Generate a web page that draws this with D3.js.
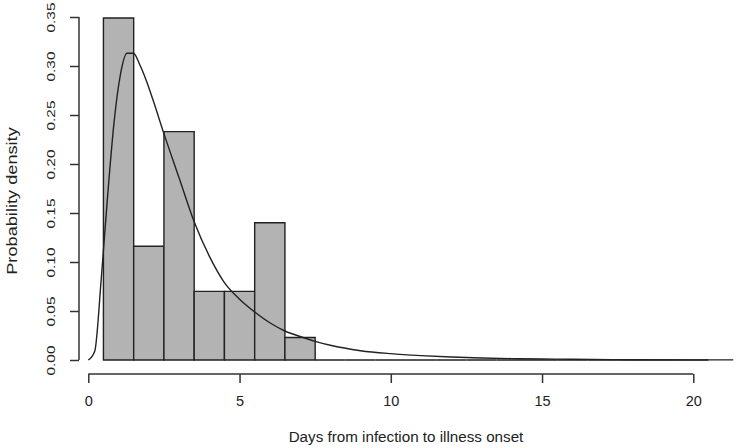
<!DOCTYPE html>
<html>
<head>
<meta charset="utf-8">
<script src="https://cdn.jsdelivr.net/npm/d3@7"></script>
<style>
  html, body { margin: 0; padding: 0; background: #fff; }
  svg { display: block; }
  text { font-family: "Liberation Sans", Arial, Helvetica, sans-serif; fill: #222; }
</style>
</head>
<body>
<svg id="chart" width="737" height="448"></svg>
<script>
// ---- data ----
const days = [1, 2, 3, 4, 5, 6, 7, 8, 9, 10, 11, 12, 13, 14, 15, 16, 17, 18, 19, 20];
const density = [0.349, 0.116, 0.233, 0.070, 0.070, 0.140, 0.023, 0, 0, 0, 0, 0, 0, 0, 0, 0, 0, 0, 0, 0];

const curveX = [0, 0.213, 0.426, 0.640, 0.853, 1.066, 1.279, 1.492, 1.706, 1.919, 2.132, 2.5, 3.0, 3.5, 4.0, 4.5, 5.0, 5.5, 6.0, 6.5, 7.0, 7.5, 8.0, 9.0, 10.0, 11.0, 12.0, 13.0, 14.0, 15.0, 16.0, 18.0, 21.32];
const curveY = [0, 0.009, 0.082, 0.168, 0.243, 0.292, 0.313, 0.313, 0.301, 0.285, 0.266, 0.231, 0.186, 0.141, 0.106, 0.079, 0.062, 0.049, 0.038, 0.0296, 0.024, 0.019, 0.015, 0.0095, 0.0065, 0.0045, 0.003, 0.002, 0.0014, 0.001, 0.0007, 0.0003, 0.0001];

const xTicks = [0, 5, 10, 15, 20];
const yTicks = [0, 0.05, 0.10, 0.15, 0.20, 0.25, 0.30, 0.35];
const yTickLabels = ["0.00", "0.05", "0.10", "0.15", "0.20", "0.25", "0.30", "0.35"];
const xTitle = "Days from infection to illness onset";
const yTitle = "Probability density";

// ---- layout ----
const svg = d3.select("#chart");
const x = d3.scaleLinear().domain([0, 20]).range([88.3, 693.3]);
const y = d3.scaleLinear().domain([0, 0.35]).range([360, 17]);
const ink = "#222";
const axisInk = "#333";

// histogram bars (zero-height bins drawn as flat outlines)
svg.append("g").selectAll("path")
  .data(days.map((d, i) => ({ d, v: density[i] })))
  .join("path")
  .attr("d", b => {
    const x0 = x(b.d - 0.5), x1 = x(b.d + 0.5), y0 = y(0), y1 = y(b.v);
    return `M${x0},${y0}V${y1}H${x1}V${y0}Z`;
  })
  .attr("fill", "#b3b3b3")
  .attr("stroke", ink)
  .attr("stroke-width", 1.4);

// density curve
const line = d3.line()
  .x((d, i) => x(curveX[i]))
  .y((d, i) => y(curveY[i]))
  .curve(d3.curveMonotoneX);
svg.append("path")
  .attr("d", line(curveX))
  .attr("fill", "none")
  .attr("stroke", ink)
  .attr("stroke-width", 1.4);

// x axis
const xAxis = svg.append("g").attr("transform", "translate(0,374)")
  .call(d3.axisBottom(x).tickValues(xTicks).tickSize(9).tickPadding(13).tickFormat(d3.format("d")));
xAxis.select(".domain").attr("d", `M${x(0)},0H${x(20)}`).attr("stroke", axisInk).attr("stroke-width", 1.5);
xAxis.selectAll(".tick line").attr("stroke", axisInk).attr("stroke-width", 1.5);
xAxis.selectAll(".tick text").attr("font-size", 14.5).attr("fill", ink)
  .attr("font-family", "'Liberation Sans', Arial, sans-serif");

// y axis
const yAxis = svg.append("g").attr("transform", "translate(79,0)")
  .call(d3.axisLeft(y).tickValues(yTicks).tickSize(9).tickFormat((d, i) => yTickLabels[i]));
yAxis.select(".domain").attr("d", `M0,${y(0)}V${y(0.35)}`).attr("stroke", axisInk).attr("stroke-width", 1.5);
yAxis.selectAll(".tick line").attr("stroke", axisInk).attr("stroke-width", 1.5);
yAxis.selectAll(".tick text").remove();
yAxis.selectAll(".tick").append("text")
  .attr("transform", "translate(-24,0) rotate(-90) scale(1.3,1)")
  .attr("text-anchor", "middle")
  .attr("font-size", 11.8)
  .attr("fill", ink)
  .attr("font-family", "'Liberation Sans', Arial, sans-serif")
  .text((d, i) => yTickLabels[i]);

// titles
svg.append("text")
  .attr("x", 406).attr("y", 441.7)
  .attr("text-anchor", "middle")
  .attr("font-size", 15.2)
  .text(xTitle);

svg.append("text")
  .attr("transform", "translate(16.7,201) rotate(-90) scale(1.3,1)")
  .attr("text-anchor", "middle")
  .attr("font-size", 14)
  .text(yTitle);
</script>
</body>
</html>
